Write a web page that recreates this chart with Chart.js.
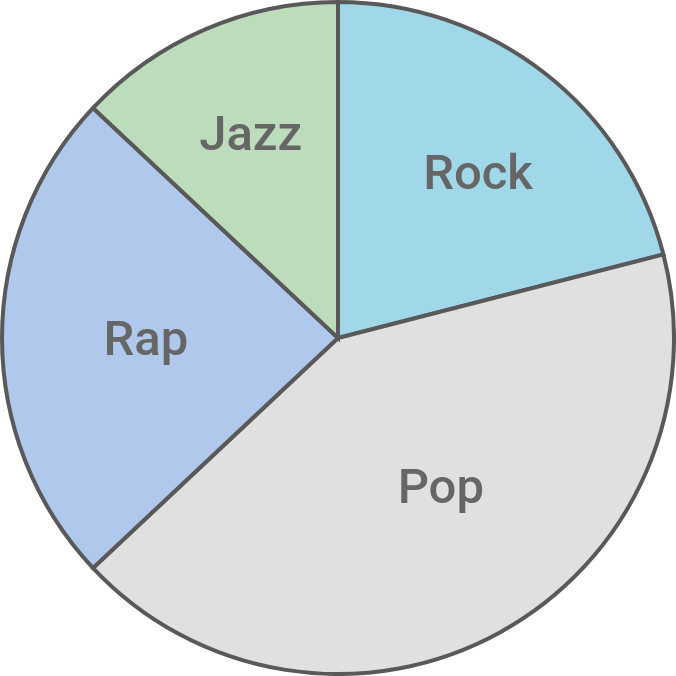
<!DOCTYPE html>
<html>
<head>
<meta charset="utf-8">
<script src="https://cdn.jsdelivr.net/npm/chart.js@4"></script>
<style>
  html, body { margin: 0; padding: 0; background: #fff; }
  #wrap { width: 676px; height: 676px; }
</style>
</head>
<body>
<div id="wrap"><canvas id="myChart"></canvas></div>
<script>
const genres = ['Rock', 'Pop', 'Rap', 'Jazz'];
const shares = [21, 42, 24, 13];
const colors = ['#a0d8ea', '#e0e0e0', '#afc8ec', '#bddcbc'];

// label placement inside each slice: fraction of radius, angle nudge in degrees
const labelSpots = [[0.647, 2.3], [0.536, -6], [0.572, 0], [0.665, 0.4]];

// draws each genre name inside its slice
const sliceLabels = {
  id: 'sliceLabels',
  afterDatasetsDraw(chart) {
    const ctx = chart.ctx;
    const meta = chart.getDatasetMeta(0);
    const size = 49;
    ctx.save();
    ctx.font = '500 ' + size + 'px Roboto';
    ctx.fillStyle = '#666666';
    ctx.textAlign = 'center';
    ctx.textBaseline = 'alphabetic';
    meta.data.forEach((arc, i) => {
      const p = arc.getProps(['x', 'y', 'startAngle', 'endAngle', 'outerRadius'], true);
      const mid = (p.startAngle + p.endAngle) / 2 + labelSpots[i][1] * Math.PI / 180;
      const r = p.outerRadius * labelSpots[i][0];
      // centre the capitals on the spot
      ctx.fillText(genres[i], p.x + Math.cos(mid) * r, p.y + Math.sin(mid) * r + size * 0.355);
    });
    ctx.restore();
  }
};

const initChart = () => {
  const ctx = document.getElementById('myChart');
  new Chart(ctx, {
    type: 'pie',
    data: {
      labels: genres,
      datasets: [{
        data: shares,
        backgroundColor: colors,
        borderColor: '#595959',
        borderWidth: 4,
        borderJoinStyle: 'miter'
      }]
    },
    options: {
      responsive: true,
      maintainAspectRatio: false,
      animation: false,
      layout: { padding: 0 },
      plugins: {
        legend: { display: false },
        tooltip: { enabled: false }
      }
    },
    plugins: [sliceLabels]
  });
};

initChart();
</script>
</body>
</html>
